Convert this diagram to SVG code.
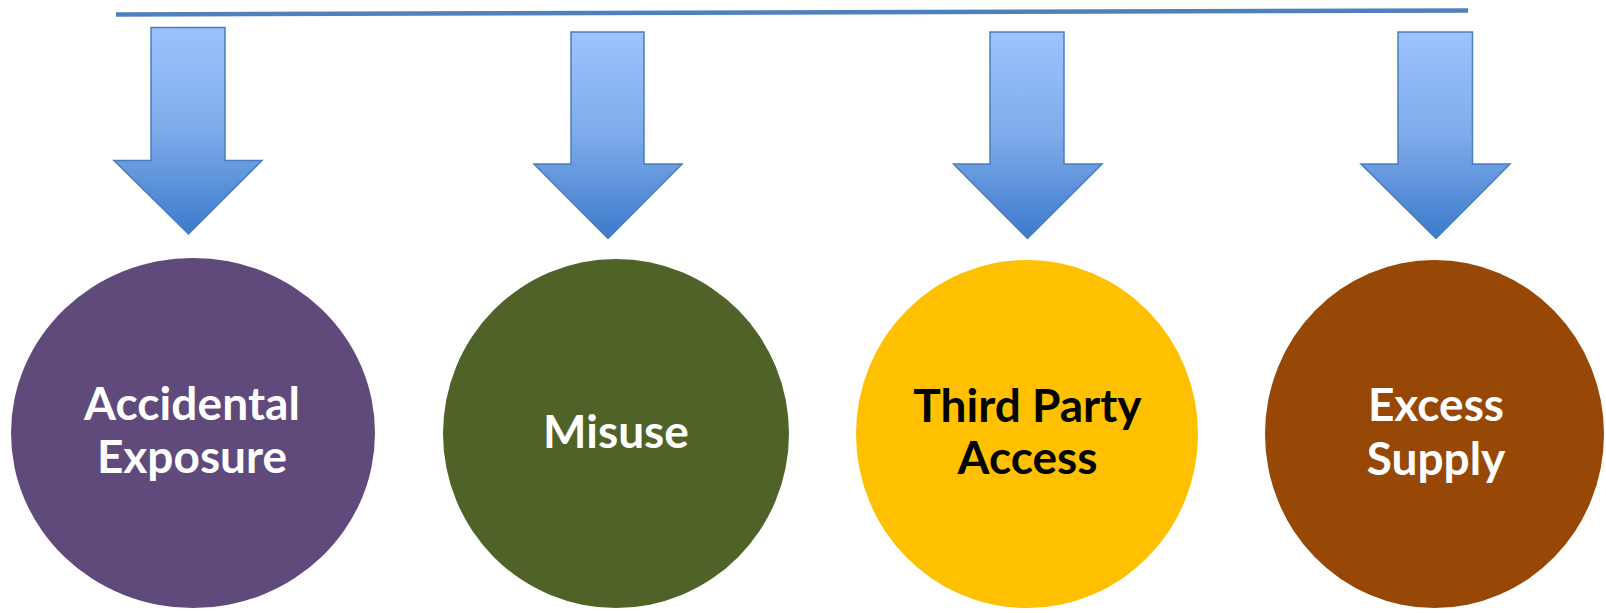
<svg xmlns="http://www.w3.org/2000/svg" width="1606" height="613" viewBox="0 0 1606 613">
<defs>
<linearGradient id="ag" x1="0" y1="0" x2="0" y2="1">
<stop offset="0" stop-color="#9DC3FF"/>
<stop offset="0.5" stop-color="#7EABEA"/>
<stop offset="1" stop-color="#3C7ACB"/>
</linearGradient>
<style>
.arrow{fill:url(#ag);stroke:#4A7EBB;stroke-width:1.5;stroke-linejoin:miter}
.lbl{font-family:Lato,"Open Sans","Liberation Sans",sans-serif;font-weight:bold;font-size:46px;text-anchor:middle}
.w{fill:#FFFFFF}
.k{fill:#000000}
</style>
</defs>
<g id="connectors">
<line x1="116" y1="14.5" x2="1468" y2="10.5" stroke="#4F81BD" stroke-width="4.5"/>
<path class="arrow" d="M151,27.5 H225 V160.5 H262 L188.5,234 L114,160.5 H151 Z"/>
<path class="arrow" d="M571,32 H644 V164 H682 L608,238.5 L534,164 H571 Z"/>
<path class="arrow" d="M990,32 H1064 V164 H1102 L1027.5,238.5 L953.5,164 H990 Z"/>
<path class="arrow" d="M1398,32 H1472.5 V164 H1510 L1436,238.5 L1361,164 H1398 Z"/>
</g>
<g id="node-accidental">
<ellipse cx="193" cy="433" rx="182" ry="175" fill="#604A7B"/>
<text class="lbl w" x="192" y="420" textLength="216">Accidental</text>
<text class="lbl w" x="192" y="473">Exposure</text>
</g>
<g id="node-misuse">
<ellipse cx="616" cy="433.5" rx="173" ry="174.5" fill="#4F6228"/>
<text class="lbl w" x="616" y="447.5">Misuse</text>
</g>
<g id="node-thirdparty">
<ellipse cx="1027" cy="434" rx="171" ry="174" fill="#FFC000"/>
<text class="lbl k" x="1027.5" y="421.5">Third Party</text>
<text class="lbl k" x="1027.5" y="473.5">Access</text>
</g>
<g id="node-excess">
<ellipse cx="1434.5" cy="434" rx="169.5" ry="174" fill="#974806"/>
<text class="lbl w" x="1436" y="421">Excess</text>
<text class="lbl w" x="1436" y="474.5">Supply</text>
</g>
</svg>
